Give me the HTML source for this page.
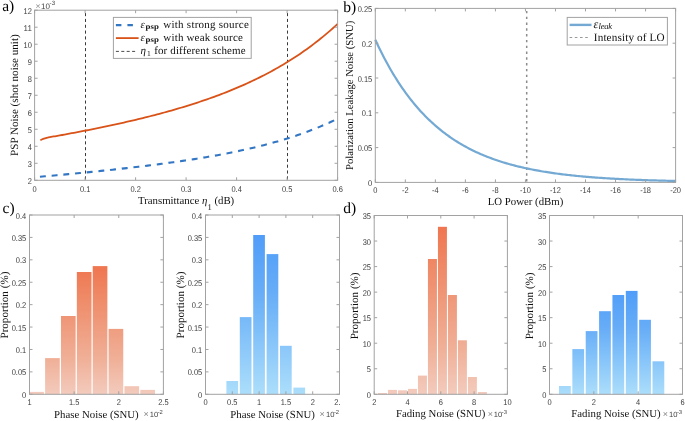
<!DOCTYPE html><html><head><meta charset="utf-8"><style>html,body{margin:0;padding:0;background:#fff}svg{display:block;will-change:transform} text{text-rendering:geometricPrecision}</style></head><body>
<svg width="685" height="421" viewBox="0 0 685 421">
<rect width="685" height="421" fill="#fff"/>
<defs>
<clipPath id="clipc2"><rect x="0" y="0" width="340" height="421"/></clipPath>
<linearGradient id="gc1" gradientUnits="userSpaceOnUse" x1="0" y1="266.1" x2="0" y2="394.3"><stop offset="0" stop-color="rgb(239,118,80)"/><stop offset="0.27" stop-color="rgb(239,140,106)"/><stop offset="0.73" stop-color="rgb(240,176,152)"/><stop offset="1" stop-color="rgb(243,203,189)"/></linearGradient>
<linearGradient id="gc2" gradientUnits="userSpaceOnUse" x1="0" y1="235.0" x2="0" y2="394.3"><stop offset="0" stop-color="rgb(80,157,249)"/><stop offset="0.35" stop-color="rgb(102,172,247)"/><stop offset="0.6" stop-color="rgb(127,191,249)"/><stop offset="1" stop-color="rgb(172,222,251)"/></linearGradient>
<linearGradient id="gd1" gradientUnits="userSpaceOnUse" x1="0" y1="226.8" x2="0" y2="394.3"><stop offset="0" stop-color="rgb(239,118,80)"/><stop offset="0.27" stop-color="rgb(239,140,106)"/><stop offset="0.73" stop-color="rgb(240,176,152)"/><stop offset="1" stop-color="rgb(243,203,189)"/></linearGradient>
<linearGradient id="gd2" gradientUnits="userSpaceOnUse" x1="0" y1="290.9" x2="0" y2="394.3"><stop offset="0" stop-color="rgb(80,157,249)"/><stop offset="0.35" stop-color="rgb(102,172,247)"/><stop offset="0.6" stop-color="rgb(127,191,249)"/><stop offset="1" stop-color="rgb(172,222,251)"/></linearGradient>
</defs>
<line x1="85.50" y1="10.20" x2="85.50" y2="180.30" stroke="#3a3a3a" stroke-width="1" stroke-dasharray="3.1 2.73" stroke-dashoffset="2.96"/>
<line x1="287.50" y1="10.20" x2="287.50" y2="180.30" stroke="#3a3a3a" stroke-width="1" stroke-dasharray="3.1 2.73" stroke-dashoffset="2.96"/>
<path d="M39.95 176.76 L40.05 176.75 L42.53 176.53 L45.01 176.31 L45.84 176.23M51.65 175.70 L51.66 175.70 L54.15 175.47 L56.63 175.24 L57.53 175.16M63.34 174.61 L63.38 174.61 L65.86 174.38 L68.34 174.14 L69.22 174.06M75.03 173.50 L75.09 173.49 L77.57 173.25 L80.05 173.01 L80.91 172.93M86.72 172.35 L86.80 172.34 L89.28 172.10 L91.76 171.85 L92.60 171.76M98.41 171.17 L98.41 171.17 L100.89 170.91 L103.37 170.65 L104.29 170.55M110.09 169.94 L110.12 169.93 L112.60 169.67 L115.08 169.40 L115.97 169.30M121.77 168.66 L121.83 168.65 L124.31 168.37 L126.80 168.09 L127.65 168.00M133.45 167.33 L133.54 167.32 L136.03 167.02 L138.51 166.73 L139.32 166.63M145.12 165.93 L145.16 165.92 L147.64 165.62 L150.12 165.31 L150.98 165.20M156.78 164.46 L156.87 164.45 L159.35 164.13 L161.83 163.80 L162.64 163.69M168.44 162.91 L168.48 162.90 L170.96 162.56 L173.44 162.21 L174.30 162.09M180.08 161.26 L180.09 161.26 L182.57 160.90 L185.05 160.53 L185.94 160.40M191.72 159.51 L191.80 159.50 L194.28 159.11 L196.77 158.71 L197.56 158.58M203.34 157.64 L203.42 157.62 L205.90 157.21 L208.38 156.78 L209.18 156.64M214.94 155.63 L215.03 155.61 L217.51 155.16 L219.99 154.71 L220.77 154.56M226.53 153.46 L226.54 153.46 L229.02 152.97 L231.50 152.48 L232.35 152.31M238.09 151.12 L238.15 151.11 L240.63 150.58 L243.12 150.04 L243.89 149.87M249.62 148.58 L249.67 148.57 L252.15 147.99 L254.63 147.41 L255.40 147.22M261.11 145.82 L261.18 145.80 L263.66 145.17 L266.14 144.53 L266.87 144.34M272.56 142.80 L272.59 142.79 L275.07 142.10 L277.55 141.40 L278.29 141.18M283.95 139.51 L284.01 139.49 L286.49 138.73 L288.97 137.95 L289.65 137.74M295.27 135.90 L295.32 135.89 L297.80 135.05 L300.28 134.19 L300.93 133.96M306.51 131.95 L306.54 131.94 L309.02 131.02 L311.50 130.07 L312.12 129.83M317.65 127.62 L317.65 127.62 L320.13 126.60 L322.61 125.55 L323.20 125.29M328.66 122.88 L328.67 122.88 L331.15 121.74 L333.63 120.58 L334.15 120.33" fill="none" stroke="#3377c4" stroke-width="2.1"/>
<polyline points="40.35,140.2 41.8,139.5 43.2,138.9 45.8,138.05 48.5,137.4 51.1,136.85 53.5,136.4 55.00,136.28 57.37,135.85 59.75,135.42 62.12,134.99 64.50,134.55 66.87,134.12 69.25,133.67 71.62,133.23 74.00,132.78 76.37,132.33 78.75,131.88 81.12,131.42 83.50,130.96 85.87,130.50 88.25,130.03 90.62,129.56 93.00,129.08 95.37,128.60 97.75,128.12 100.12,127.63 102.50,127.14 104.87,126.64 107.25,126.14 109.62,125.64 111.99,125.13 114.37,124.62 116.74,124.10 119.12,123.57 121.49,123.04 123.87,122.51 126.24,121.97 128.62,121.42 130.99,120.87 133.37,120.32 135.74,119.76 138.12,119.19 140.49,118.61 142.87,118.03 145.24,117.45 147.62,116.85 149.99,116.25 152.37,115.64 154.74,115.03 157.12,114.41 159.49,113.78 161.87,113.14 164.24,112.50 166.62,111.85 168.99,111.19 171.36,110.52 173.74,109.84 176.11,109.15 178.49,108.46 180.86,107.75 183.24,107.04 185.61,106.32 187.99,105.58 190.36,104.84 192.74,104.09 195.11,103.32 197.49,102.55 199.86,101.76 202.24,100.96 204.61,100.15 206.99,99.33 209.36,98.50 211.74,97.65 214.11,96.80 216.49,95.92 218.86,95.04 221.24,94.14 223.61,93.23 225.98,92.30 228.36,91.36 230.73,90.40 233.11,89.43 235.48,88.44 237.86,87.44 240.23,86.42 242.61,85.38 244.98,84.32 247.36,83.25 249.73,82.16 252.11,81.05 254.48,79.92 256.86,78.77 259.23,77.60 261.61,76.41 263.98,75.20 266.36,73.97 268.73,72.71 271.11,71.43 273.48,70.13 275.86,68.81 278.23,67.46 280.61,66.09 282.98,64.69 285.35,63.27 287.73,61.82 290.10,60.34 292.48,58.83 294.85,57.30 297.23,55.73 299.60,54.14 301.98,52.51 304.35,50.86 306.73,49.17 309.10,47.45 311.48,45.69 313.85,43.90 316.23,42.07 318.60,40.21 320.98,38.31 323.35,36.38 325.73,34.40 328.10,32.38 330.48,30.33 332.85,28.23 335.23,26.09 337.60,23.90" fill="none" stroke="#d95319" stroke-width="1.8" stroke-linejoin="round"/>
<rect x="34.60" y="10.20" width="303.00" height="170.10" fill="none" stroke="#a2a2a2" stroke-width="1"/>
<path d="M34.60 180.30v-3.0M34.60 10.20v3.0M85.10 180.30v-3.0M85.10 10.20v3.0M135.60 180.30v-3.0M135.60 10.20v3.0M186.10 180.30v-3.0M186.10 10.20v3.0M236.60 180.30v-3.0M236.60 10.20v3.0M287.10 180.30v-3.0M287.10 10.20v3.0M337.60 180.30v-3.0M337.60 10.20v3.0M34.60 180.30h3.0M337.60 180.30h-3.0M34.60 163.29h3.0M337.60 163.29h-3.0M34.60 146.28h3.0M337.60 146.28h-3.0M34.60 129.27h3.0M337.60 129.27h-3.0M34.60 112.26h3.0M337.60 112.26h-3.0M34.60 95.25h3.0M337.60 95.25h-3.0M34.60 78.24h3.0M337.60 78.24h-3.0M34.60 61.23h3.0M337.60 61.23h-3.0M34.60 44.22h3.0M337.60 44.22h-3.0M34.60 27.21h3.0M337.60 27.21h-3.0M34.60 10.20h3.0M337.60 10.20h-3.0" stroke="#a2a2a2" stroke-width="1" fill="none"/>
<g style="font-family:&quot;Liberation Sans&quot;,sans-serif;font-size:8.3px" fill="#3a3a3a">
<text x="34.60" y="191.90" text-anchor="middle" textLength="4.15" lengthAdjust="spacingAndGlyphs">0</text>
<text x="85.10" y="191.90" text-anchor="middle" textLength="10.38" lengthAdjust="spacingAndGlyphs">0.1</text>
<text x="135.60" y="191.90" text-anchor="middle" textLength="10.38" lengthAdjust="spacingAndGlyphs">0.2</text>
<text x="186.10" y="191.90" text-anchor="middle" textLength="10.38" lengthAdjust="spacingAndGlyphs">0.3</text>
<text x="236.60" y="191.90" text-anchor="middle" textLength="10.38" lengthAdjust="spacingAndGlyphs">0.4</text>
<text x="287.10" y="191.90" text-anchor="middle" textLength="10.38" lengthAdjust="spacingAndGlyphs">0.5</text>
<text x="337.60" y="191.90" text-anchor="middle" textLength="10.38" lengthAdjust="spacingAndGlyphs">0.6</text>
<text x="31.90" y="183.90" text-anchor="end" textLength="4.15" lengthAdjust="spacingAndGlyphs">2</text>
<text x="31.90" y="166.89" text-anchor="end" textLength="4.15" lengthAdjust="spacingAndGlyphs">3</text>
<text x="31.90" y="149.88" text-anchor="end" textLength="4.15" lengthAdjust="spacingAndGlyphs">4</text>
<text x="31.90" y="132.87" text-anchor="end" textLength="4.15" lengthAdjust="spacingAndGlyphs">5</text>
<text x="31.90" y="115.86" text-anchor="end" textLength="4.15" lengthAdjust="spacingAndGlyphs">6</text>
<text x="31.90" y="98.85" text-anchor="end" textLength="4.15" lengthAdjust="spacingAndGlyphs">7</text>
<text x="31.90" y="81.84" text-anchor="end" textLength="4.15" lengthAdjust="spacingAndGlyphs">8</text>
<text x="31.90" y="64.83" text-anchor="end" textLength="4.15" lengthAdjust="spacingAndGlyphs">9</text>
<text x="31.90" y="47.82" text-anchor="end" textLength="8.31" lengthAdjust="spacingAndGlyphs">10</text>
<text x="31.90" y="30.81" text-anchor="end" textLength="8.31" lengthAdjust="spacingAndGlyphs">11</text>
<text x="31.90" y="13.80" text-anchor="end" textLength="8.31" lengthAdjust="spacingAndGlyphs">12</text>
</g>
<rect x="113.4" y="17.4" width="137.8" height="41" fill="#fff" stroke="#a2a2a2" stroke-width="1"/>
<line x1="115.9" y1="25.1" x2="135" y2="25.1" stroke="#3377c4" stroke-width="2.1" stroke-dasharray="5.5 6"/>
<line x1="115.9" y1="38.1" x2="138.6" y2="38.1" stroke="#d95319" stroke-width="1.8"/>
<line x1="115.9" y1="51.4" x2="137" y2="51.4" stroke="#333" stroke-width="0.9" stroke-dasharray="3 2.4"/>
<text x="140.4" y="27.6" style="font-family:&quot;Liberation Serif&quot;,serif;font-size:11px" fill="#111"><tspan font-style="italic">ε</tspan></text>
<text x="145.6" y="29.0" style="font-family:&quot;Liberation Serif&quot;,serif;font-size:7.8px;font-weight:bold" fill="#111" textLength="13.2" lengthAdjust="spacingAndGlyphs">psp</text>
<text x="163.3" y="27.6" style="font-family:&quot;Liberation Serif&quot;,serif;font-size:11px" fill="#111" textLength="85.5" lengthAdjust="spacing">with strong source</text>
<text x="140.4" y="40.6" style="font-family:&quot;Liberation Serif&quot;,serif;font-size:11px" fill="#111"><tspan font-style="italic">ε</tspan></text>
<text x="145.6" y="42.0" style="font-family:&quot;Liberation Serif&quot;,serif;font-size:7.8px;font-weight:bold" fill="#111" textLength="13.2" lengthAdjust="spacingAndGlyphs">psp</text>
<text x="163.3" y="40.6" style="font-family:&quot;Liberation Serif&quot;,serif;font-size:11px" fill="#111" textLength="79.6" lengthAdjust="spacing">with weak source</text>
<text x="140.4" y="53.5" style="font-family:&quot;Liberation Serif&quot;,serif;font-size:11px" fill="#111"><tspan font-style="italic">η</tspan></text>
<text x="146.9" y="55.6" style="font-family:&quot;Liberation Serif&quot;,serif;font-size:7.5px" fill="#111">1</text>
<text x="154.2" y="53.5" style="font-family:&quot;Liberation Serif&quot;,serif;font-size:11px" fill="#111" textLength="91.4" lengthAdjust="spacing">for different scheme</text>
<text x="35.40" y="8.60" style="font-family:&quot;Liberation Sans&quot;,sans-serif;font-size:8.6px" fill="#8a8a8a">×</text>
<text x="40.95" y="8.60" style="font-family:&quot;Liberation Sans&quot;,sans-serif;font-size:8px" fill="#444">10</text>
<text x="49.60" y="4.60" style="font-family:&quot;Liberation Sans&quot;,sans-serif;font-size:6.2px" fill="#444">-3</text>
<text x="186.10" y="204.30" text-anchor="middle" style="font-family:&quot;Liberation Serif&quot;,serif;font-size:10.8px" fill="#111">Transmittance <tspan font-style="italic">η</tspan><tspan font-size="8.6px" dy="5.5">1</tspan><tspan dy="-5.5"> (dB)</tspan></text>
<text transform="translate(18.20,95.10) rotate(-90)" text-anchor="middle" style="font-family:&quot;Liberation Serif&quot;,serif;font-size:11.1px" fill="#111">PSP Noise (shot noise unit)</text>
<text x="2.2" y="10.8" style="font-family:&quot;Liberation Serif&quot;,serif;font-size:15.5px" fill="#000">a)</text>
<line x1="526.7" y1="8.40" x2="526.7" y2="182.40" stroke="#8c8c8c" stroke-width="1.5" stroke-dasharray="2.4 3.4" stroke-dashoffset="3.3"/>
<polyline points="375.30,39.72 376.81,42.98 378.32,46.17 379.83,49.29 381.34,52.33 382.85,55.31 384.35,58.22 385.86,61.06 387.37,63.83 388.88,66.55 390.39,69.20 391.90,71.79 393.41,74.32 394.92,76.79 396.43,79.20 397.94,81.57 399.44,83.87 400.95,86.13 402.46,88.33 403.97,90.48 405.48,92.58 406.99,94.64 408.50,96.65 410.01,98.61 411.52,100.52 413.03,102.40 414.54,104.23 416.04,106.02 417.55,107.76 419.06,109.47 420.57,111.14 422.08,112.77 423.59,114.36 425.10,115.92 426.61,117.44 428.12,118.92 429.63,120.38 431.13,121.80 432.64,123.18 434.15,124.54 435.66,125.86 437.17,127.15 438.68,128.42 440.19,129.65 441.70,130.86 443.21,132.04 444.72,133.19 446.23,134.32 447.73,135.42 449.24,136.49 450.75,137.54 452.26,138.57 453.77,139.57 455.28,140.55 456.79,141.51 458.30,142.44 459.81,143.36 461.32,144.25 462.82,145.12 464.33,145.98 465.84,146.81 467.35,147.62 468.86,148.42 470.37,149.20 471.88,149.96 473.39,150.70 474.90,151.42 476.41,152.13 477.92,152.82 479.42,153.50 480.93,154.16 482.44,154.81 483.95,155.44 485.46,156.06 486.97,156.66 488.48,157.25 489.99,157.82 491.50,158.38 493.01,158.93 494.51,159.47 496.02,160.00 497.53,160.51 499.04,161.01 500.55,161.50 502.06,161.98 503.57,162.44 505.08,162.90 506.59,163.35 508.10,163.78 509.61,164.21 511.11,164.62 512.62,165.03 514.13,165.43 515.64,165.82 517.15,166.20 518.66,166.57 520.17,166.93 521.68,167.28 523.19,167.63 524.70,167.97 526.20,168.30 527.71,168.62 529.22,168.93 530.73,169.24 532.24,169.54 533.75,169.84 535.26,170.12 536.77,170.41 538.28,170.68 539.79,170.95 541.29,171.21 542.80,171.47 544.31,171.72 545.82,171.96 547.33,172.20 548.84,172.43 550.35,172.66 551.86,172.88 553.37,173.10 554.88,173.31 556.39,173.52 557.89,173.72 559.40,173.92 560.91,174.12 562.42,174.31 563.93,174.49 565.44,174.67 566.95,174.85 568.46,175.02 569.97,175.19 571.48,175.36 572.98,175.52 574.49,175.67 576.00,175.83 577.51,175.98 579.02,176.13 580.53,176.27 582.04,176.41 583.55,176.55 585.06,176.68 586.57,176.81 588.08,176.94 589.58,177.06 591.09,177.19 592.60,177.31 594.11,177.42 595.62,177.54 597.13,177.65 598.64,177.76 600.15,177.86 601.66,177.97 603.17,178.07 604.67,178.17 606.18,178.26 607.69,178.36 609.20,178.45 610.71,178.54 612.22,178.63 613.73,178.72 615.24,178.80 616.75,178.88 618.26,178.96 619.77,179.04 621.27,179.12 622.78,179.19 624.29,179.27 625.80,179.34 627.31,179.41 628.82,179.48 630.33,179.54 631.84,179.61 633.35,179.67 634.86,179.73 636.36,179.80 637.87,179.86 639.38,179.91 640.89,179.97 642.40,180.03 643.91,180.08 645.42,180.13 646.93,180.19 648.44,180.24 649.95,180.29 651.46,180.33 652.96,180.38 654.47,180.43 655.98,180.47 657.49,180.52 659.00,180.56 660.51,180.60 662.02,180.64 663.53,180.68 665.04,180.72 666.55,180.76 668.05,180.80 669.56,180.83 671.07,180.87 672.58,180.91 674.09,180.94 675.60,180.97" fill="none" stroke="#73a9d3" stroke-width="2.2" stroke-linejoin="round"/>
<rect x="375.30" y="8.40" width="300.30" height="174.00" fill="none" stroke="#a2a2a2" stroke-width="1"/>
<path d="M375.30 182.40v-3.0M375.30 8.40v3.0M405.33 182.40v-3.0M405.33 8.40v3.0M435.36 182.40v-3.0M435.36 8.40v3.0M465.39 182.40v-3.0M465.39 8.40v3.0M495.42 182.40v-3.0M495.42 8.40v3.0M525.45 182.40v-3.0M525.45 8.40v3.0M555.48 182.40v-3.0M555.48 8.40v3.0M585.51 182.40v-3.0M585.51 8.40v3.0M615.54 182.40v-3.0M615.54 8.40v3.0M645.57 182.40v-3.0M645.57 8.40v3.0M675.60 182.40v-3.0M675.60 8.40v3.0M375.30 182.40h3.0M675.60 182.40h-3.0M375.30 147.60h3.0M675.60 147.60h-3.0M375.30 112.80h3.0M675.60 112.80h-3.0M375.30 78.00h3.0M675.60 78.00h-3.0M375.30 43.20h3.0M675.60 43.20h-3.0M375.30 8.40h3.0M675.60 8.40h-3.0" stroke="#a2a2a2" stroke-width="1" fill="none"/>
<g style="font-family:&quot;Liberation Sans&quot;,sans-serif;font-size:8.3px" fill="#3a3a3a">
<text x="375.30" y="193.10" text-anchor="middle" textLength="4.15" lengthAdjust="spacingAndGlyphs">0</text>
<text x="405.33" y="193.10" text-anchor="middle" textLength="6.64" lengthAdjust="spacingAndGlyphs">-2</text>
<text x="435.36" y="193.10" text-anchor="middle" textLength="6.64" lengthAdjust="spacingAndGlyphs">-4</text>
<text x="465.39" y="193.10" text-anchor="middle" textLength="6.64" lengthAdjust="spacingAndGlyphs">-6</text>
<text x="495.42" y="193.10" text-anchor="middle" textLength="6.64" lengthAdjust="spacingAndGlyphs">-8</text>
<text x="525.45" y="193.10" text-anchor="middle" textLength="10.80" lengthAdjust="spacingAndGlyphs">-10</text>
<text x="555.48" y="193.10" text-anchor="middle" textLength="10.80" lengthAdjust="spacingAndGlyphs">-12</text>
<text x="585.51" y="193.10" text-anchor="middle" textLength="10.80" lengthAdjust="spacingAndGlyphs">-14</text>
<text x="615.54" y="193.10" text-anchor="middle" textLength="10.80" lengthAdjust="spacingAndGlyphs">-16</text>
<text x="645.57" y="193.10" text-anchor="middle" textLength="10.80" lengthAdjust="spacingAndGlyphs">-18</text>
<text x="675.60" y="193.10" text-anchor="middle" textLength="10.80" lengthAdjust="spacingAndGlyphs">-20</text>
<text x="372.20" y="186.00" text-anchor="end" textLength="4.15" lengthAdjust="spacingAndGlyphs">0</text>
<text x="372.20" y="151.20" text-anchor="end" textLength="14.54" lengthAdjust="spacingAndGlyphs">0.05</text>
<text x="372.20" y="116.40" text-anchor="end" textLength="10.38" lengthAdjust="spacingAndGlyphs">0.1</text>
<text x="372.20" y="81.60" text-anchor="end" textLength="14.54" lengthAdjust="spacingAndGlyphs">0.15</text>
<text x="372.20" y="46.80" text-anchor="end" textLength="10.38" lengthAdjust="spacingAndGlyphs">0.2</text>
<text x="372.20" y="12.00" text-anchor="end" textLength="14.54" lengthAdjust="spacingAndGlyphs">0.25</text>
</g>
<rect x="567.2" y="17.4" width="100.2" height="27.6" fill="#fff" stroke="#a2a2a2" stroke-width="1"/>
<line x1="569.6" y1="24.9" x2="591.5" y2="24.9" stroke="#73a9d3" stroke-width="2.4"/>
<line x1="569.6" y1="37.5" x2="590" y2="37.5" stroke="#999" stroke-width="1.2" stroke-dasharray="2.6 2.6"/>
<text x="593.6" y="27.5" style="font-family:&quot;Liberation Serif&quot;,serif;font-size:12px;font-style:italic" fill="#111">ε</text>
<text x="598.6" y="29.0" style="font-family:&quot;Liberation Serif&quot;,serif;font-size:8.6px;font-style:italic" fill="#111" textLength="13.5" lengthAdjust="spacing">leak</text>
<text x="593.8" y="40.5" style="font-family:&quot;Liberation Serif&quot;,serif;font-size:11.2px" fill="#111" textLength="70.8" lengthAdjust="spacing">Intensity of LO</text>
<text x="525.50" y="204.60" text-anchor="middle" style="font-family:&quot;Liberation Serif&quot;,serif;font-size:10.8px" fill="#111">LO Power (dBm)</text>
<text transform="translate(353.20,95.40) rotate(-90)" text-anchor="middle" style="font-family:&quot;Liberation Serif&quot;,serif;font-size:10.7px" fill="#111">Polarization Leakage Noise (SNU)</text>
<text x="343.3" y="11.6" style="font-family:&quot;Liberation Serif&quot;,serif;font-size:15.5px" fill="#000">b)</text>
<rect x="29.70" y="391.90" width="14.20" height="2.40" fill="url(#gc1)"/>
<rect x="45.10" y="358.10" width="14.67" height="36.20" fill="url(#gc1)"/>
<rect x="60.97" y="316.00" width="14.67" height="78.30" fill="url(#gc1)"/>
<rect x="76.84" y="272.00" width="14.67" height="122.30" fill="url(#gc1)"/>
<rect x="92.71" y="266.10" width="14.67" height="128.20" fill="url(#gc1)"/>
<rect x="108.58" y="328.90" width="14.67" height="65.40" fill="url(#gc1)"/>
<rect x="124.45" y="386.20" width="14.67" height="8.10" fill="url(#gc1)"/>
<rect x="140.32" y="389.90" width="14.67" height="4.40" fill="url(#gc1)"/>
<rect x="29.50" y="215.00" width="133.90" height="179.30" fill="none" stroke="#a2a2a2" stroke-width="1"/>
<path d="M29.50 394.30v-3.0M29.50 215.00v3.0M74.13 394.30v-3.0M74.13 215.00v3.0M118.77 394.30v-3.0M118.77 215.00v3.0M163.40 394.30v-3.0M163.40 215.00v3.0M29.50 394.30h3.0M163.40 394.30h-3.0M29.50 371.89h3.0M163.40 371.89h-3.0M29.50 349.48h3.0M163.40 349.48h-3.0M29.50 327.06h3.0M163.40 327.06h-3.0M29.50 304.65h3.0M163.40 304.65h-3.0M29.50 282.24h3.0M163.40 282.24h-3.0M29.50 259.83h3.0M163.40 259.83h-3.0M29.50 237.41h3.0M163.40 237.41h-3.0M29.50 215.00h3.0M163.40 215.00h-3.0" stroke="#a2a2a2" stroke-width="1" fill="none"/>
<g style="font-family:&quot;Liberation Sans&quot;,sans-serif;font-size:8.3px" fill="#3a3a3a">
<text x="29.50" y="405.10" text-anchor="middle" textLength="4.15" lengthAdjust="spacingAndGlyphs">1</text>
<text x="74.13" y="405.10" text-anchor="middle" textLength="10.38" lengthAdjust="spacingAndGlyphs">1.5</text>
<text x="118.77" y="405.10" text-anchor="middle" textLength="4.15" lengthAdjust="spacingAndGlyphs">2</text>
<text x="163.40" y="405.10" text-anchor="middle" textLength="10.38" lengthAdjust="spacingAndGlyphs">2.5</text>
<text x="26.20" y="397.90" text-anchor="end" textLength="4.15" lengthAdjust="spacingAndGlyphs">0</text>
<text x="26.20" y="375.49" text-anchor="end" textLength="14.54" lengthAdjust="spacingAndGlyphs">0.05</text>
<text x="26.20" y="353.08" text-anchor="end" textLength="10.38" lengthAdjust="spacingAndGlyphs">0.1</text>
<text x="26.20" y="330.66" text-anchor="end" textLength="14.54" lengthAdjust="spacingAndGlyphs">0.15</text>
<text x="26.20" y="308.25" text-anchor="end" textLength="10.38" lengthAdjust="spacingAndGlyphs">0.2</text>
<text x="26.20" y="285.84" text-anchor="end" textLength="14.54" lengthAdjust="spacingAndGlyphs">0.25</text>
<text x="26.20" y="263.43" text-anchor="end" textLength="10.38" lengthAdjust="spacingAndGlyphs">0.3</text>
<text x="26.20" y="241.01" text-anchor="end" textLength="14.54" lengthAdjust="spacingAndGlyphs">0.35</text>
<text x="26.20" y="218.60" text-anchor="end" textLength="10.38" lengthAdjust="spacingAndGlyphs">0.4</text>
</g>
<text x="96.40" y="418.20" text-anchor="middle" style="font-family:&quot;Liberation Serif&quot;,serif;font-size:10.8px" fill="#111">Phase Noise (SNU)</text>
<text transform="translate(7.50,305.10) rotate(-90)" text-anchor="middle" style="font-family:&quot;Liberation Serif&quot;,serif;font-size:11.1px" fill="#111">Proportion (%)</text>
<text x="143.40" y="416.90" style="font-family:&quot;Liberation Sans&quot;,sans-serif;font-size:9.0px" fill="#8a8a8a">×</text>
<text x="149.75" y="416.90" style="font-family:&quot;Liberation Sans&quot;,sans-serif;font-size:7.6px" fill="#444">10</text>
<text x="157.70" y="413.80" style="font-family:&quot;Liberation Sans&quot;,sans-serif;font-size:5.8px" fill="#444">-2</text>
<text x="2.5" y="213" style="font-family:&quot;Liberation Serif&quot;,serif;font-size:15.5px" fill="#000">c)</text>
<rect x="226.40" y="381.00" width="11.70" height="13.30" fill="url(#gc2)"/>
<rect x="239.80" y="317.10" width="11.70" height="77.20" fill="url(#gc2)"/>
<rect x="253.20" y="235.00" width="11.70" height="159.30" fill="url(#gc2)"/>
<rect x="266.60" y="254.10" width="11.70" height="140.20" fill="url(#gc2)"/>
<rect x="280.00" y="345.80" width="11.70" height="48.50" fill="url(#gc2)"/>
<rect x="293.40" y="387.60" width="11.70" height="6.70" fill="url(#gc2)"/>
<rect x="205.50" y="215.00" width="134.00" height="179.30" fill="none" stroke="#a2a2a2" stroke-width="1"/>
<path d="M205.50 394.30v-3.0M205.50 215.00v3.0M232.30 394.30v-3.0M232.30 215.00v3.0M259.10 394.30v-3.0M259.10 215.00v3.0M285.90 394.30v-3.0M285.90 215.00v3.0M312.70 394.30v-3.0M312.70 215.00v3.0M339.50 394.30v-3.0M339.50 215.00v3.0M205.50 394.30h3.0M339.50 394.30h-3.0M205.50 371.89h3.0M339.50 371.89h-3.0M205.50 349.48h3.0M339.50 349.48h-3.0M205.50 327.06h3.0M339.50 327.06h-3.0M205.50 304.65h3.0M339.50 304.65h-3.0M205.50 282.24h3.0M339.50 282.24h-3.0M205.50 259.83h3.0M339.50 259.83h-3.0M205.50 237.41h3.0M339.50 237.41h-3.0M205.50 215.00h3.0M339.50 215.00h-3.0" stroke="#a2a2a2" stroke-width="1" fill="none"/>
<g style="font-family:&quot;Liberation Sans&quot;,sans-serif;font-size:8.3px" fill="#3a3a3a" clip-path="url(#clipc2)">
<text x="205.50" y="405.10" text-anchor="middle" textLength="4.15" lengthAdjust="spacingAndGlyphs">0</text>
<text x="232.30" y="405.10" text-anchor="middle" textLength="10.38" lengthAdjust="spacingAndGlyphs">0.5</text>
<text x="259.10" y="405.10" text-anchor="middle" textLength="4.15" lengthAdjust="spacingAndGlyphs">1</text>
<text x="285.90" y="405.10" text-anchor="middle" textLength="10.38" lengthAdjust="spacingAndGlyphs">1.5</text>
<text x="312.70" y="405.10" text-anchor="middle" textLength="4.15" lengthAdjust="spacingAndGlyphs">2</text>
<text x="339.50" y="405.10" text-anchor="middle" textLength="10.38" lengthAdjust="spacingAndGlyphs">2.5</text>
<text x="202.20" y="397.90" text-anchor="end" textLength="4.15" lengthAdjust="spacingAndGlyphs">0</text>
<text x="202.20" y="375.49" text-anchor="end" textLength="14.54" lengthAdjust="spacingAndGlyphs">0.05</text>
<text x="202.20" y="353.08" text-anchor="end" textLength="10.38" lengthAdjust="spacingAndGlyphs">0.1</text>
<text x="202.20" y="330.66" text-anchor="end" textLength="14.54" lengthAdjust="spacingAndGlyphs">0.15</text>
<text x="202.20" y="308.25" text-anchor="end" textLength="10.38" lengthAdjust="spacingAndGlyphs">0.2</text>
<text x="202.20" y="285.84" text-anchor="end" textLength="14.54" lengthAdjust="spacingAndGlyphs">0.25</text>
<text x="202.20" y="263.43" text-anchor="end" textLength="10.38" lengthAdjust="spacingAndGlyphs">0.3</text>
<text x="202.20" y="241.01" text-anchor="end" textLength="14.54" lengthAdjust="spacingAndGlyphs">0.35</text>
<text x="202.20" y="218.60" text-anchor="end" textLength="10.38" lengthAdjust="spacingAndGlyphs">0.4</text>
</g>
<text x="272.60" y="418.20" text-anchor="middle" style="font-family:&quot;Liberation Serif&quot;,serif;font-size:10.8px" fill="#111">Phase Noise (SNU)</text>
<text transform="translate(183.60,305.00) rotate(-90)" text-anchor="middle" style="font-family:&quot;Liberation Serif&quot;,serif;font-size:11.1px" fill="#111">Proportion (%)</text>
<text x="319.60" y="416.90" style="font-family:&quot;Liberation Sans&quot;,sans-serif;font-size:9.0px" fill="#8a8a8a">×</text>
<text x="325.95" y="416.90" style="font-family:&quot;Liberation Sans&quot;,sans-serif;font-size:7.6px" fill="#444">10</text>
<text x="333.90" y="413.80" style="font-family:&quot;Liberation Sans&quot;,sans-serif;font-size:5.8px" fill="#444">-2</text>
<rect x="378.00" y="393.00" width="8.99" height="1.30" fill="url(#gd1)"/>
<rect x="387.99" y="389.90" width="8.99" height="4.40" fill="url(#gd1)"/>
<rect x="397.98" y="390.30" width="8.99" height="4.00" fill="url(#gd1)"/>
<rect x="407.97" y="388.90" width="8.99" height="5.40" fill="url(#gd1)"/>
<rect x="417.96" y="375.60" width="8.99" height="18.70" fill="url(#gd1)"/>
<rect x="427.95" y="259.00" width="8.99" height="135.30" fill="url(#gd1)"/>
<rect x="437.94" y="226.80" width="8.99" height="167.50" fill="url(#gd1)"/>
<rect x="447.93" y="295.00" width="8.99" height="99.30" fill="url(#gd1)"/>
<rect x="457.92" y="340.30" width="8.99" height="54.00" fill="url(#gd1)"/>
<rect x="467.91" y="377.00" width="8.99" height="17.30" fill="url(#gd1)"/>
<rect x="477.90" y="392.00" width="8.99" height="2.30" fill="url(#gd1)"/>
<rect x="374.20" y="215.50" width="133.20" height="178.80" fill="none" stroke="#a2a2a2" stroke-width="1"/>
<path d="M374.20 394.30v-3.0M374.20 215.50v3.0M407.50 394.30v-3.0M407.50 215.50v3.0M440.80 394.30v-3.0M440.80 215.50v3.0M474.10 394.30v-3.0M474.10 215.50v3.0M507.40 394.30v-3.0M507.40 215.50v3.0M374.20 394.30h3.0M507.40 394.30h-3.0M374.20 368.76h3.0M507.40 368.76h-3.0M374.20 343.21h3.0M507.40 343.21h-3.0M374.20 317.67h3.0M507.40 317.67h-3.0M374.20 292.13h3.0M507.40 292.13h-3.0M374.20 266.59h3.0M507.40 266.59h-3.0M374.20 241.04h3.0M507.40 241.04h-3.0M374.20 215.50h3.0M507.40 215.50h-3.0" stroke="#a2a2a2" stroke-width="1" fill="none"/>
<g style="font-family:&quot;Liberation Sans&quot;,sans-serif;font-size:8.3px" fill="#3a3a3a">
<text x="374.20" y="405.20" text-anchor="middle" textLength="4.15" lengthAdjust="spacingAndGlyphs">2</text>
<text x="407.50" y="405.20" text-anchor="middle" textLength="4.15" lengthAdjust="spacingAndGlyphs">4</text>
<text x="440.80" y="405.20" text-anchor="middle" textLength="4.15" lengthAdjust="spacingAndGlyphs">6</text>
<text x="474.10" y="405.20" text-anchor="middle" textLength="4.15" lengthAdjust="spacingAndGlyphs">8</text>
<text x="507.40" y="405.20" text-anchor="middle" textLength="8.31" lengthAdjust="spacingAndGlyphs">10</text>
<text x="371.00" y="397.90" text-anchor="end" textLength="4.15" lengthAdjust="spacingAndGlyphs">0</text>
<text x="371.00" y="372.36" text-anchor="end" textLength="4.15" lengthAdjust="spacingAndGlyphs">5</text>
<text x="371.00" y="346.81" text-anchor="end" textLength="8.31" lengthAdjust="spacingAndGlyphs">10</text>
<text x="371.00" y="321.27" text-anchor="end" textLength="8.31" lengthAdjust="spacingAndGlyphs">15</text>
<text x="371.00" y="295.73" text-anchor="end" textLength="8.31" lengthAdjust="spacingAndGlyphs">20</text>
<text x="371.00" y="270.19" text-anchor="end" textLength="8.31" lengthAdjust="spacingAndGlyphs">25</text>
<text x="371.00" y="244.64" text-anchor="end" textLength="8.31" lengthAdjust="spacingAndGlyphs">30</text>
<text x="371.00" y="219.10" text-anchor="end" textLength="8.31" lengthAdjust="spacingAndGlyphs">35</text>
</g>
<text x="440.60" y="417.40" text-anchor="middle" style="font-family:&quot;Liberation Serif&quot;,serif;font-size:10.8px" fill="#111">Fading Noise (SNU)</text>
<text transform="translate(357.70,305.90) rotate(-90)" text-anchor="middle" style="font-family:&quot;Liberation Serif&quot;,serif;font-size:11.1px" fill="#111">Proportion (%)</text>
<text x="487.70" y="416.90" style="font-family:&quot;Liberation Sans&quot;,sans-serif;font-size:9.0px" fill="#8a8a8a">×</text>
<text x="493.85" y="416.90" style="font-family:&quot;Liberation Sans&quot;,sans-serif;font-size:7.6px" fill="#444">10</text>
<text x="501.80" y="413.80" style="font-family:&quot;Liberation Sans&quot;,sans-serif;font-size:5.8px" fill="#444">-3</text>
<text x="343.3" y="212.6" style="font-family:&quot;Liberation Serif&quot;,serif;font-size:15.5px" fill="#000">d)</text>
<rect x="559.00" y="386.00" width="11.76" height="8.30" fill="url(#gd2)"/>
<rect x="572.36" y="349.10" width="11.76" height="45.20" fill="url(#gd2)"/>
<rect x="585.72" y="331.10" width="11.76" height="63.20" fill="url(#gd2)"/>
<rect x="599.08" y="311.20" width="11.76" height="83.10" fill="url(#gd2)"/>
<rect x="612.44" y="295.00" width="11.76" height="99.30" fill="url(#gd2)"/>
<rect x="625.80" y="290.90" width="11.76" height="103.40" fill="url(#gd2)"/>
<rect x="639.16" y="319.80" width="11.76" height="74.50" fill="url(#gd2)"/>
<rect x="652.52" y="361.30" width="11.76" height="33.00" fill="url(#gd2)"/>
<rect x="549.50" y="215.50" width="133.00" height="178.80" fill="none" stroke="#a2a2a2" stroke-width="1"/>
<path d="M549.50 394.30v-3.0M549.50 215.50v3.0M593.83 394.30v-3.0M593.83 215.50v3.0M638.17 394.30v-3.0M638.17 215.50v3.0M682.50 394.30v-3.0M682.50 215.50v3.0M549.50 394.30h3.0M682.50 394.30h-3.0M549.50 368.76h3.0M682.50 368.76h-3.0M549.50 343.21h3.0M682.50 343.21h-3.0M549.50 317.67h3.0M682.50 317.67h-3.0M549.50 292.13h3.0M682.50 292.13h-3.0M549.50 266.59h3.0M682.50 266.59h-3.0M549.50 241.04h3.0M682.50 241.04h-3.0M549.50 215.50h3.0M682.50 215.50h-3.0" stroke="#a2a2a2" stroke-width="1" fill="none"/>
<g style="font-family:&quot;Liberation Sans&quot;,sans-serif;font-size:8.3px" fill="#3a3a3a">
<text x="549.50" y="405.20" text-anchor="middle" textLength="4.15" lengthAdjust="spacingAndGlyphs">0</text>
<text x="593.83" y="405.20" text-anchor="middle" textLength="4.15" lengthAdjust="spacingAndGlyphs">2</text>
<text x="638.17" y="405.20" text-anchor="middle" textLength="4.15" lengthAdjust="spacingAndGlyphs">4</text>
<text x="682.50" y="405.20" text-anchor="middle" textLength="4.15" lengthAdjust="spacingAndGlyphs">6</text>
<text x="546.30" y="397.90" text-anchor="end" textLength="4.15" lengthAdjust="spacingAndGlyphs">0</text>
<text x="546.30" y="372.36" text-anchor="end" textLength="4.15" lengthAdjust="spacingAndGlyphs">5</text>
<text x="546.30" y="346.81" text-anchor="end" textLength="8.31" lengthAdjust="spacingAndGlyphs">10</text>
<text x="546.30" y="321.27" text-anchor="end" textLength="8.31" lengthAdjust="spacingAndGlyphs">15</text>
<text x="546.30" y="295.73" text-anchor="end" textLength="8.31" lengthAdjust="spacingAndGlyphs">20</text>
<text x="546.30" y="270.19" text-anchor="end" textLength="8.31" lengthAdjust="spacingAndGlyphs">25</text>
<text x="546.30" y="244.64" text-anchor="end" textLength="8.31" lengthAdjust="spacingAndGlyphs">30</text>
<text x="546.30" y="219.10" text-anchor="end" textLength="8.31" lengthAdjust="spacingAndGlyphs">35</text>
</g>
<text x="616.00" y="417.40" text-anchor="middle" style="font-family:&quot;Liberation Serif&quot;,serif;font-size:10.8px" fill="#111">Fading Noise (SNU)</text>
<text transform="translate(532.80,305.90) rotate(-90)" text-anchor="middle" style="font-family:&quot;Liberation Serif&quot;,serif;font-size:11.1px" fill="#111">Proportion (%)</text>
<text x="662.80" y="416.90" style="font-family:&quot;Liberation Sans&quot;,sans-serif;font-size:9.0px" fill="#8a8a8a">×</text>
<text x="668.95" y="416.90" style="font-family:&quot;Liberation Sans&quot;,sans-serif;font-size:7.6px" fill="#444">10</text>
<text x="676.90" y="413.80" style="font-family:&quot;Liberation Sans&quot;,sans-serif;font-size:5.8px" fill="#444">-3</text>
</svg></body></html>
